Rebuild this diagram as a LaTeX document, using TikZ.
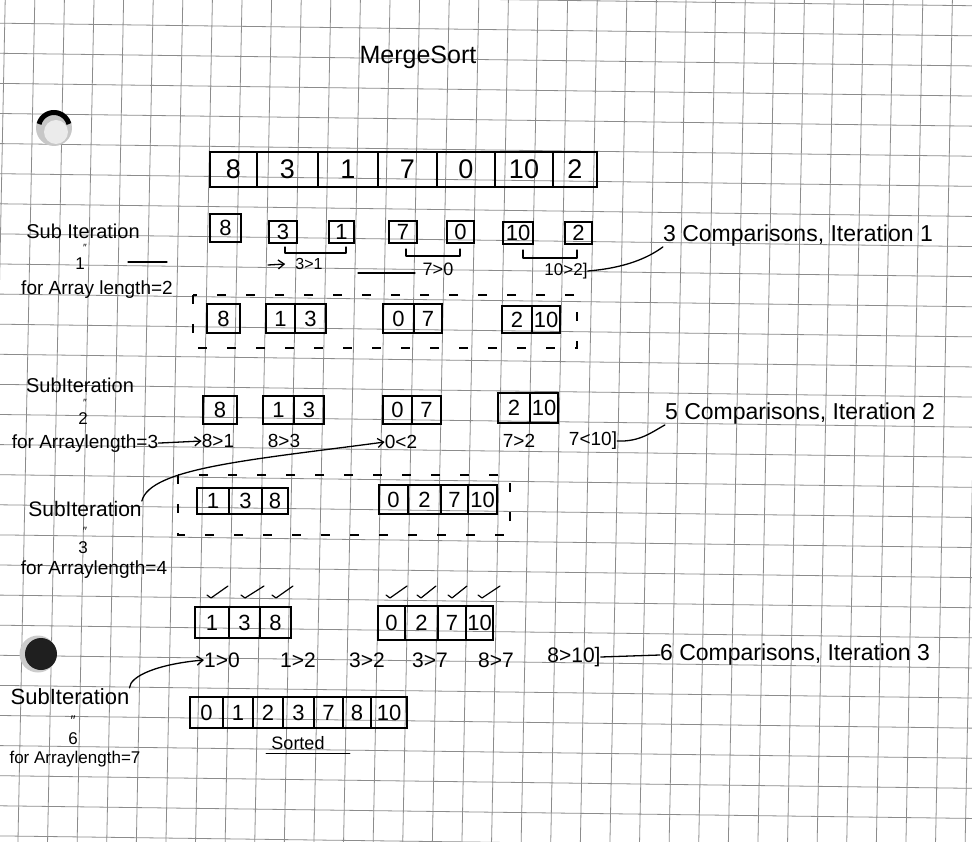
\documentclass[tikz,border=0pt]{standalone}
\usepackage{fontspec}
\setmainfont{Liberation Sans}
\usetikzlibrary{arrows.meta,calc}
\newcommand{\fs}[1]{\fontsize{#1}{#1}\selectfont}
\begin{document}
\begin{tikzpicture}[x=1pt,y=-1pt,
  gridline/.style={black!45, line width=0.8pt},
  ink/.style={black, line width=1.3pt, line cap=round, line join=round},
  cell/.style={draw, black, line width=1.4pt, inner sep=0pt, font=\fs{22}},
  box/.style 2 args={cell, minimum width=#1, minimum height=#2},
  bigbox/.style 2 args={box={#1}{#2}, font=\fs{27}},
  txt/.style={inner sep=0pt, font=\fs{#1}},
  btxt/.style={inner sep=0pt, anchor=base, font=\fs{#1}},
  dashbox/.style={black, line width=1.2pt, dash pattern=on 9pt off 20pt},
  arr/.style={ink, -{Straight Barb[length=6pt,width=9pt]}},
  chk/.style={ink, line width=1.2pt}
]
\useasboundingbox (0,0) rectangle (972,842);
\fill[white] (0,0) rectangle (972,842);
% grid paper
\foreach \k in {-1,...,28} {
  \pgfmathsetmacro\ya{-6.9+30.1*\k-0.13}
  \pgfmathsetmacro\yb{-6.9+30.1*\k+0.013*982}
  \draw[gridline] (-10,\ya) -- (982,\yb);
}
\foreach \j in {-1,...,33} {
  \pgfmathsetmacro\xa{5.2+29.6*\j+0.2}
  \pgfmathsetmacro\xb{5.2+29.6*\j-0.02*852}
  \draw[gridline] (\xa,-10) -- (\xb,852);
}
% punched holes
\fill[black!22] (54,128) circle (18);
\fill[black!8] (56,132) circle (12);
\draw[black, line width=5pt] ([shift={(195:15.5)}]54,128) arc (195:345:15.5);
\fill[black!20] (38,654) circle (18.5);
\fill[black!88] (41,654) circle (16);

% title
\node[txt=25] (title) at (418,57) {MergeSort};

% main array
\node[bigbox={47}{35}] (m1) at (233.5,169.5) {8};
\node[bigbox={61}{35}] (m2) at (287.5,169.5) {3};
\node[bigbox={60}{35}] (m3) at (348,169.5) {1};
\node[bigbox={59}{35}] (m4) at (407.5,169.5) {7};
\node[bigbox={58}{35}] (m5) at (466,169.5) {0};
\node[bigbox={58}{35}] (m6) at (524,169.5) {10};
\node[bigbox={44}{35}] (m7) at (575,169.5) {2};

% row 2 : sub iteration 1
\node[box={31}{28}] (a1) at (225.5,228) {8};
\node[box={28}{22}] (a2) at (283,232) {3};
\node[box={25}{22}] (a3) at (341.5,232) {1};
\node[box={28}{22}] (a4) at (403,232) {7};
\node[box={27}{22}] (a5) at (460.5,232) {0};
\node[box={30}{22}] (a6) at (518,233) {10};
\node[box={27}{22}] (a7) at (578.5,233) {2};
\draw[ink, line width=1.1pt] (285,247) -- (285,253) -- (346,253) -- (346,247);
\draw[ink, line width=1.1pt] (406,249) -- (406,256) -- (460,256) -- (460,249);
\draw[ink, line width=1.1pt] (523,250) -- (523,258) -- (577,258) -- (577,250);
\node[txt=16] (c31) at (309,264) {3>1};
\node[txt=18] (c70) at (438,269) {7>0};
\node[txt=17] (c102) at (566,271) {10>2]};
\draw[ink] (358,273) -- (415,273);
\coordinate (s1a) at (128,262);
\coordinate (s1b) at (167,262);
\coordinate (s1c) at (268,265);
\draw[ink] (s1a) -- (s1b);
\draw[arr] (s1c) -- ([xshift=-10pt]c31.west);
\node[txt=23] (comp1) at (798,236) {3 Comparisons, Iteration 1};
\draw[ink] (c102.east) .. controls (625,268) and (648,258) .. (comp1.south west);

% labels sub iteration 1
\node[btxt=20] (lA1) at (83,238.5) {Sub Iteration};
\node[btxt=10.5] (lA2) at (85,252) {″};
\node[btxt=17] (lA3) at (80,270) {1};
\node[btxt=19] (lA4) at (97,295) {for Array length=2};

% row 3
\draw[dashbox] (193,295) rectangle (577,348);
\node[box={33}{29}] (b1) at (223.5,318.5) {8};
\node[box={29}{29}] (b2) at (280.5,318.5) {1};
\node[box={31}{29}] (b3) at (310.5,318.5) {3};
\node[box={31}{29}] (b4) at (398.5,318.5) {0};
\node[box={28}{29}] (b5) at (428,318.5) {7};
\node[box={30}{27}] (b6) at (517,319.5) {2};
\node[box={28}{27}] (b7) at (546,319.5) {10};

% row 4 : sub iteration 2
\node[box={34}{28}] (e1) at (220,410) {8};
\node[box={31}{28}] (e2) at (278.5,410) {1};
\node[box={30}{28}] (e3) at (309,410) {3};
\node[box={29}{28}] (e4) at (397.5,410) {0};
\node[box={29}{28}] (e5) at (426.5,410) {7};
\node[box={32}{30}] (e6) at (514,408) {2};
\node[box={28}{30}] (e7) at (544,408) {10};
\node[btxt=20] (lB1) at (80,392.5) {SubIteration};
\node[btxt=10.5] (lB2) at (85,406.5) {″};
\node[btxt=17] (lB3) at (83,424) {2};
\node[btxt=19] (lB4) at (85,448) {for Arraylength=3};
\node[txt=19] (c81) at (218,441) {8>1};
\node[txt=19] (c83) at (284,441) {8>3};
\node[txt=19] (c02) at (401,442) {0<2};
\node[txt=19] (c72) at (519,441) {7>2};
\node[txt=19] (c710) at (593,441) {7<10]};
\draw[arr] (lB4.east) -- (c81.west);
\node[txt=23] (comp2) at (800,414) {5 Comparisons, Iteration 2};
\draw[ink] (c710.east) .. controls (640,442) and (652,432) .. (comp2.south west);

% row 5 : sub iteration 3
\draw[dashbox] (178,475) rectangle (510,535);
\node[box={32}{26}] (f1) at (213,501) {1};
\node[box={33}{26}] (f2) at (245.5,501) {3};
\node[box={26}{26}] (f3) at (275,501) {8};
\node[box={29}{29}] (f4) at (393.5,499.5) {0};
\node[box={33}{29}] (f5) at (424.5,499.5) {2};
\node[box={27}{29}] (f6) at (454.5,499.5) {7};
\node[box={29}{29}] (f7) at (482.5,499.5) {10};
\node[btxt=21] (lC1) at (85,516.5) {SubIteration};
\node[btxt=12] (lC2) at (85,535) {″};
\node[btxt=17] (lC3) at (83,553) {3};
\node[btxt=19] (lC4) at (94,574) {for Arraylength=4};
\draw[arr] (lC1.north east) .. controls (150,468) and (250,460) .. (c02.west);

% row 6 : checks and merged halves
\foreach \xa/\xb in {207/228,241/264,272/293,386/407,417/436,448/467,478/500} {
  \draw[chk] (\xa,595) -- (\xa+4,598) -- (\xb,586);
}
\node[box={34}{31}] (g1) at (212,622.5) {1};
\node[box={31}{31}] (g2) at (244.5,622.5) {3};
\node[box={31}{31}] (g3) at (275.5,622.5) {8};
\node[box={27}{34}] (g4) at (391.5,623) {0};
\node[box={33}{34}] (g5) at (421.5,623) {2};
\node[box={28}{34}] (g6) at (452,623) {7};
\node[box={27}{34}] (g7) at (479.5,623) {10};
\node[txt=21] (d10) at (222,660) {1>0};
\node[txt=21] (d12) at (298,660) {1>2};
\node[txt=21] (d32) at (367,660) {3>2};
\node[txt=21] (d37) at (430,660) {3>7};
\node[txt=21] (d87) at (496,660) {8>7};
\node[txt=21] (d810) at (574,657) {8>10]};
\node[txt=23] (comp3) at (795,655) {6 Comparisons, Iteration 3};
\draw[ink] (d810.east) -- (comp3.west);

% row 7 : sub iteration 6
\node[btxt=22] (lD1) at (70,704) {SubIteration};
\node[btxt=14] (lD2) at (73,725.5) {″};
\node[btxt=17] (lD3) at (73,744) {6};
\node[btxt=17] (lD4) at (75,763.5) {for Arraylength=7};
\draw[arr] (lD1.north east) .. controls (130,676) and (158,664) .. (d10.west);
\node[box={33}{31}] (h1) at (206.5,712.5) {0};
\node[box={30}{31}] (h2) at (238,712.5) {1};
\node[box={30}{31}] (h3) at (268,712.5) {2};
\node[box={31}{31}] (h4) at (298.5,712.5) {3};
\node[box={29}{31}] (h5) at (328.5,712.5) {7};
\node[box={28}{31}] (h6) at (357,712.5) {8};
\node[box={36}{31}] (h7) at (389,712.5) {10};
\node[txt=18] (sorted) at (298,743) {Sorted};
\draw[ink] ([xshift=-5pt,yshift=-4pt]sorted.south west) -- ([xshift=25pt,yshift=-4pt]sorted.south east);
\end{tikzpicture}
\end{document}
